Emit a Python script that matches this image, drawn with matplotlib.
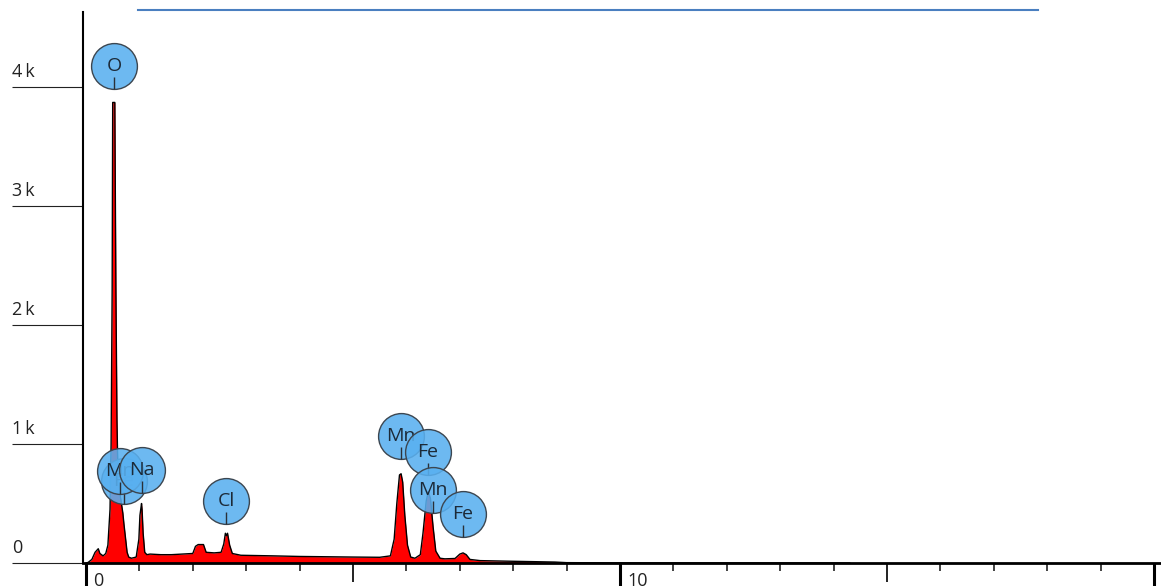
import matplotlib
matplotlib.use("Agg")
import matplotlib.pyplot as plt
from matplotlib.path import Path
from matplotlib.lines import Line2D

# spectrum (keV, counts)
energy = [0.00, 0.04, 0.11, 0.17, 0.23, 0.26, 0.32, 0.37, 0.41, 0.45,
          0.47, 0.49, 0.50, 0.54, 0.55, 0.56, 0.58, 0.60, 0.64, 0.67,
          0.69, 0.71, 0.73, 0.75, 0.77, 0.80, 0.85, 0.94, 0.99, 1.01,
          1.04, 1.05, 1.07, 1.10, 1.14, 1.20, 1.40, 1.60, 1.80, 2.00,
          2.05, 2.10, 2.20, 2.25, 2.40, 2.53, 2.58, 2.61, 2.63, 2.65,
          2.69, 2.74, 2.90, 3.50, 4.00, 5.00, 5.50, 5.70, 5.77, 5.82,
          5.87, 5.90, 5.93, 5.97, 6.02, 6.08, 6.16, 6.26, 6.31, 6.37,
          6.41, 6.45, 6.50, 6.55, 6.63, 6.72, 6.91, 7.00, 7.06, 7.12,
          7.19, 7.38, 7.94, 8.78, 9.00, 10.0, 14.3]
counts = [0, 5, 30, 90, 120, 80, 60, 80, 150, 450,
          1000, 2300, 3870, 3870, 3050, 2300, 1200, 700, 570, 480,
          420, 330, 250, 170, 90, 50, 40, 50, 200, 400,
          500, 450, 250, 90, 70, 75, 70, 70, 75, 80,
          140, 155, 155, 90, 85, 90, 160, 250, 230, 250,
          150, 80, 65, 60, 55, 50, 48, 60, 200, 500,
          740, 750, 680, 400, 150, 50, 40, 70, 250, 520,
          600, 540, 300, 100, 40, 35, 38, 75, 85, 70,
          30, 20, 15, 8, 3, 1, 0]

# element markers: label, line energy (keV), marker height (counts)
marker_labels = ["O", "Fe", "Mn", "Na", "Cl", "Mn", "Fe", "Mn", "Fe"]
marker_energy = [0.525, 0.705, 0.637, 1.041, 2.622, 5.899, 6.404, 6.490, 7.058]
marker_height = [4176, 689, 773, 782, 521, 1067, 933, 613, 412]

y_ticks = [0, 1000, 2000, 3000, 4000]
y_tick_labels = ["0", "1\u2009k", "2\u2009k", "3\u2009k", "4\u2009k"]
x_major = [0, 10, 20]
x_major_labels = ["0", "10", ""]
x_mid = [5, 15]
x_minor = [1, 2, 3, 4, 6, 7, 8, 9, 11, 12, 13, 14, 16, 17, 18, 19]

W, H = 1161, 586
fig = plt.figure(figsize=(W / 100, H / 100), dpi=100)
ax = fig.add_axes([83 / W, 1 - 563 / H, (1160 - 83) / W, (563 - 12) / H])

ax.fill_between(energy, counts, color="#ff0000", lw=0, zorder=2)
ax.plot(energy, counts, color="black", lw=1.0, zorder=3)

ax.set_xlim(-0.056, 20.11)
ax.set_ylim(0, 4630)

for side in ["top", "right"]:
    ax.spines[side].set_visible(False)
ax.spines["left"].set_linewidth(1.5)
ax.spines["bottom"].set_linewidth(2)
ax.spines["bottom"].set_zorder(4)

ax.set_yticks(y_ticks)
ax.set_yticklabels([])
ax.tick_params(axis="y", length=51, width=0.8, color="#222222")
for val, lab in zip(y_ticks, y_tick_labels):
    ax.annotate(lab, (0, val), xycoords=("axes fraction", "data"),
                xytext=(-51, 7), textcoords="offset points",
                ha="left", va="baseline", fontsize=13,
                family="Open Sans", color="#222222")

ax.set_xticks(x_major)
ax.set_xticklabels([])
ax.set_xticks(x_minor, minor=True)
ax.tick_params(axis="x", which="major", length=20, width=2.2, color="black")
ax.tick_params(axis="x", which="minor", length=5.5, width=1.2, color="#222222")
sec = ax.secondary_xaxis("bottom")
sec.set_xticks(x_mid)
sec.set_xticklabels([])
sec.tick_params(axis="x", length=13.5, width=1.4, color="#222222")
sec.spines["bottom"].set_visible(False)
for val, lab in zip(x_major, x_major_labels):
    ax.annotate(lab, (val, 0), xycoords=("data", "axes fraction"),
                xytext=(5, -6.5), textcoords="offset points",
                ha="left", va="top", fontsize=13,
                family="Open Sans", color="#222222")

# element label circles
tick_mark = Path([(0, -0.5), (0, -1)])
z = 5
for lab, e, h in zip(marker_labels, marker_energy, marker_height):
    ax.plot(e, h, "o", markersize=33, markerfacecolor=(0.35, 0.69, 0.94, 0.88),
            markeredgecolor="#3c4650", markeredgewidth=1.0, zorder=z,
            clip_on=False)
    ax.plot(e, h, marker=tick_mark, markersize=33, markeredgecolor="#2a3038",
            markeredgewidth=1.0, zorder=z + 1, clip_on=False)
    ax.text(e, h, lab, ha="center", va="center", fontsize=14,
            family="Open Sans", color="#1c2a38", zorder=z + 2)
    z += 3

# thin blue bar across the top
fig.add_artist(Line2D([138 / W, 1038 / W], [1 - 10 / H, 1 - 10 / H],
                      color="#4a7fc0", lw=1.5))

fig.savefig("out.png", dpi=100)
